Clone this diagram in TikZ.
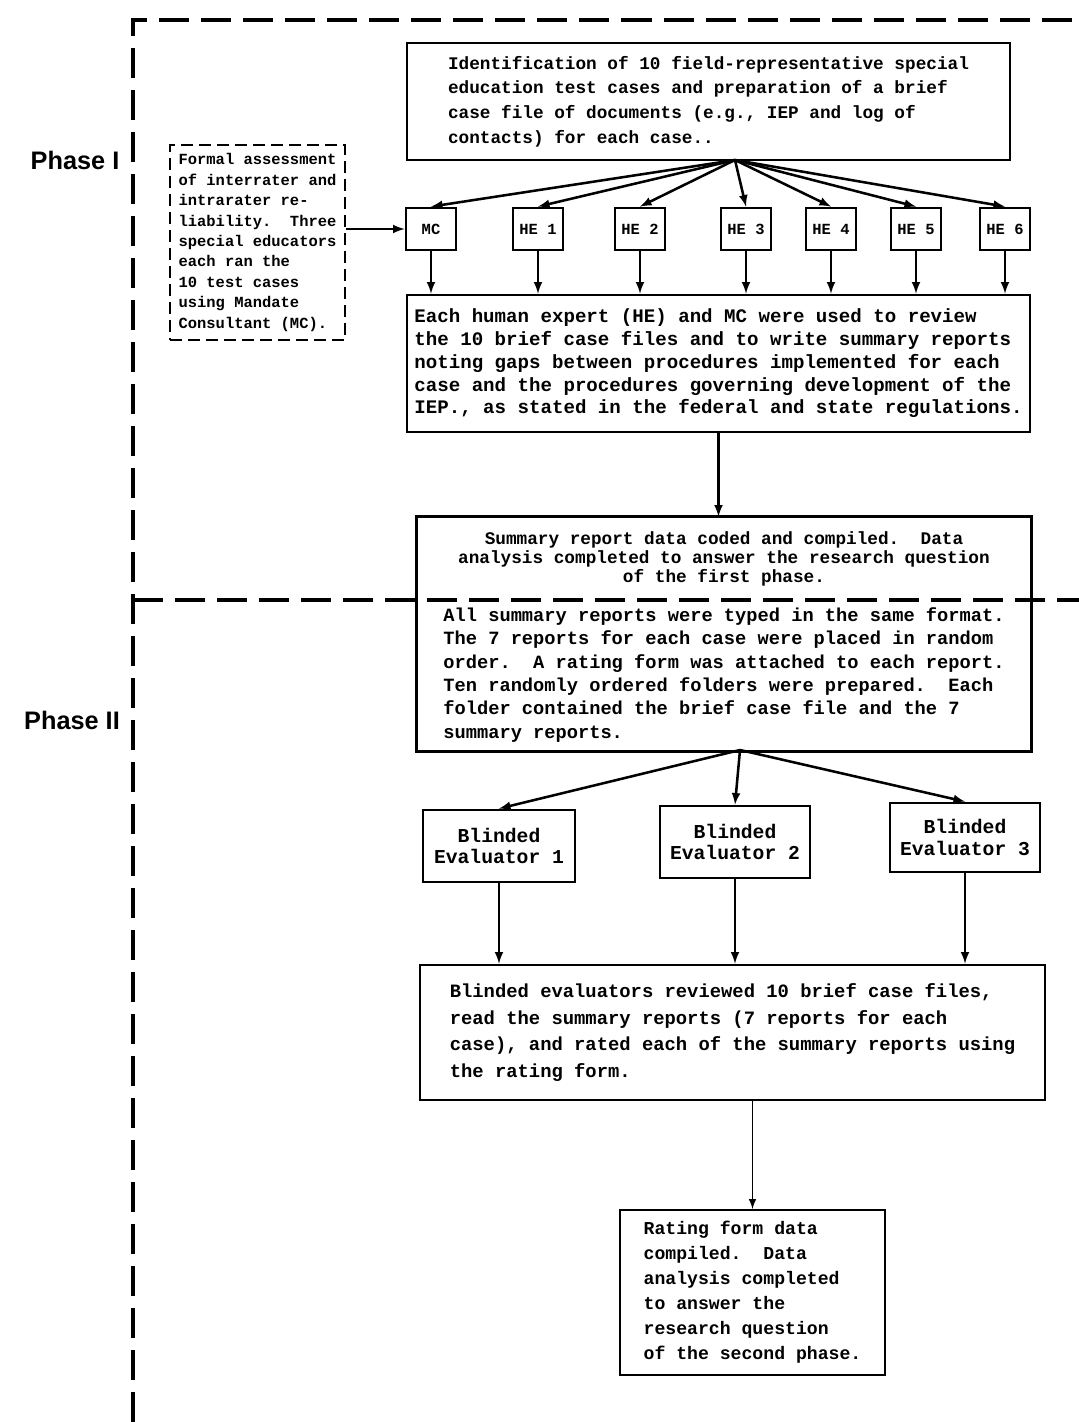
\documentclass[tikz,border=0pt]{standalone}
\usepackage{fontspec}
\setmonofont{Liberation Mono}
\setsansfont{Liberation Sans}
\begin{document}
\begin{tikzpicture}[x=0.025cm,y=-0.025cm,>=latex,
  box/.style 2 args={draw,line width=2pt,fill=white,align=left,inner sep=2pt,
    font=\ttfamily\bfseries\fontsize{#1}{#2}\selectfont},
  tag/.style={box={11}{12},align=center,minimum width=1.25cm,minimum height=1.05cm},
  flow/.style={->,line width=1.8pt},
  frame/.style={line width=2.2pt,dash pattern=on 0.75cm off 0.3cm},
  phase/.style={font=\sffamily\bfseries\fontsize{18}{21}\selectfont}]
\useasboundingbox (0,0) rectangle (1079,1422);

\node[phase] (ph1) at (75,160) {Phase I};
\node[phase] (ph2) at (72,720) {Phase II};

\node[box={12.6}{17.5},minimum width=15.075cm,minimum height=2.925cm] (top) at (708.5,101.5)
  {Identification of 10 field-representative special\\education test cases and preparation of a brief\\case file of documents (e.g., IEP and log of\\contacts) for each case..};
\node[box={11}{14.5},dash pattern=on 0.3cm off 0.15cm,minimum width=4.375cm,minimum height=4.875cm] (assess) at (257.5,242.5)
  {Formal assessment\\of interrater and\\intrarater re-\\liability.\ \ Three\\special educators\\each ran the\\10 test cases\\using Mandate\\Consultant (MC).};

% experts
\node[tag] (mc) at (431,229) {MC};
\node[tag] (he1) at (538,229) {HE 1};
\node[tag] (he2) at (640,229) {HE 2};
\node[tag] (he3) at (746,229) {HE 3};
\node[tag] (he4) at (831,229) {HE 4};
\node[tag] (he5) at (916,229) {HE 5};
\node[tag] (he6) at (1005,229) {HE 6};

\node[box={13.6}{16.2},minimum width=15.575cm,minimum height=3.425cm] (review) at (718.5,363.5)
  {Each human expert (HE) and MC were used to review\\the 10 brief case files and to write summary reports\\noting gaps between procedures implemented for each\\case and the procedures governing development of the\\IEP., as stated in the federal and state regulations.};

\node[box={12.6}{13.5},draw=none,fill=none,align=center,minimum width=15.3cm,minimum height=2.05cm] (compile) at (724,559)
  {Summary report data coded and compiled.\ \ Data\\analysis completed to answer the research question\\of the first phase.};
\node[box={13.3}{16.6},draw=none,fill=none,minimum width=15.3cm,minimum height=3.75cm] (prep) at (724,675)
  {All summary reports were typed in the same format.\\The 7 reports for each case were placed in random\\order.\ \ A rating form was attached to each report.\\Ten randomly ordered folders were prepared.\ \ Each\\folder contained the brief case file and the 7\\summary reports.};
\draw[line width=2pt] (compile.north west) rectangle (prep.south east);

% evaluators
\node[box={14}{15},align=center,minimum width=3.8cm,minimum height=1.8cm] (ev1) at (499,846) {Blinded\\Evaluator 1};
\node[box={14}{15},align=center,minimum width=3.75cm,minimum height=1.8cm] (ev2) at (735,842) {Blinded\\Evaluator 2};
\node[box={14}{15},align=center,minimum width=3.75cm,minimum height=1.725cm] (ev3) at (965,837.5) {Blinded\\Evaluator 3};

\node[box={13.4}{19},minimum width=15.625cm,minimum height=3.375cm] (rate) at (732.5,1032.5)
  {Blinded evaluators reviewed 10 brief case files,\\read the summary reports (7 reports for each\\case), and rated each of the summary reports using\\the rating form.};
\node[box={12.9}{17.8},line width=1.4pt,minimum width=6.625cm,minimum height=4.125cm] (final) at (752.5,1292.5)
  {Rating form data\\compiled.\ \ Data\\analysis completed\\to answer the\\research question\\of the second phase.};

\coordinate (fan) at (735,160);
\coordinate (split) at (740,750);
\foreach \n in {mc,he1,he2,he3,he4,he5,he6} {
  \draw[flow] (fan) -- (\n.north);
  \draw[flow] (\n.south) -- (\n.south |- review.north);
}
\draw[flow] (assess.east |- mc.west) -- (mc.west);
\draw[flow] (review.south) -- (review.south |- compile.north);
\foreach \n in {ev1,ev2,ev3} {
  \draw[flow] (split) -- (\n.north);
  \draw[flow] (\n.south) -- (\n.south |- rate.north);
}
\draw[flow,line width=1.4pt] (final.north |- rate.south) -- (final.north);

% phase frame
\draw[frame] (133,1422) -- (133,20) -- (1079,20);
\draw[frame] (133,600) -- (1079,600);
\end{tikzpicture}
\end{document}
